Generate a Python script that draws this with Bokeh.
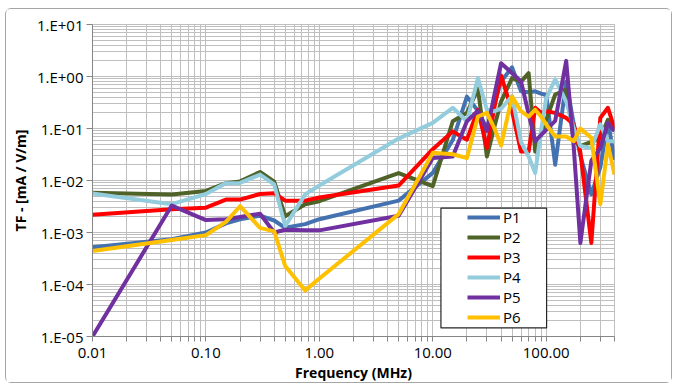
from bokeh.plotting import figure
from bokeh.models import (FixedTicker, PrintfTickFormatter, CustomJSTickFormatter,
                          Legend, LegendItem, BoxAnnotation)
from bokeh.embed import file_html
from bokeh.resources import INLINE

# ---- data (frequency in MHz, TF in mA / V/m) ----
freq = [0.01, 0.05, 0.1, 0.15, 0.2, 0.3, 0.4, 0.5, 0.75, 1, 5, 10, 15, 20, 25, 30, 35, 40,
        50, 60, 70, 80, 90, 100, 120, 150, 175, 200, 250, 300, 350, 400]

p1 = [5.2e-4, 7.4e-4, 1.0e-3, 1.5e-3, 1.8e-3, 2.1e-3, 1.7e-3, 1.23e-3, 1.45e-3, 1.8e-3, 4.1e-3,
      0.014, 0.06, 0.41, 0.22, 0.10, 0.30, 0.80, 1.5, 0.52, 0.50, 0.52, 0.47, 0.44, 0.02,
      0.8, 0.12, 0.03, 0.0054, 0.018, 0.14, 0.025]
p2 = [5.8e-3, 5.4e-3, 6.3e-3, 8.9e-3, 9.6e-3, 0.0146, 9.5e-3, 2.05e-3, 3.5e-3, 4.0e-3, 0.0139,
      7.8e-3, 0.138, 0.20, 0.58, 0.029, 0.11, 0.33, 0.93, 0.80, 1.16, 0.036, 0.075, 0.147, 0.45,
      0.56, 0.06, 0.046, 0.055, 0.066, 0.147, 0.094]
p3 = [2.2e-3, 2.8e-3, 3.0e-3, 4.3e-3, 4.3e-3, 5.5e-3, 5.7e-3, 4.1e-3, 4.1e-3, 4.7e-3, 8.0e-3,
      0.04, 0.088, 0.061, 0.23, 0.042, 0.26, 1.05, 0.215, 0.036, 0.036, 0.25, 0.20, 0.215, 0.20,
      0.16, 0.12, 0.035, 6.3e-4, 0.16, 0.25, 0.10]
p4 = [5.6e-3, 3.5e-3, 5.5e-3, 8.9e-3, 9.0e-3, 0.013, 8.4e-3, 1.33e-3, 5.4e-3, 8.0e-3, 0.064,
      0.128, 0.25, 0.138, 0.93, 0.23, 0.215, 0.24, 0.42, 0.055, 0.029, 0.014, 0.09, 0.38, 0.88,
      0.33, 0.10, 0.046, 0.042, 0.12, 0.057, 0.057]
p5 = [1.0e-5, 3.3e-3, 1.73e-3, 1.8e-3, 1.98e-3, 2.3e-3, 1.0e-3, 1.13e-3, 1.1e-3, 1.1e-3, 2.1e-3,
      0.027, 0.029, 0.138, 0.22, 0.09, 0.45, 1.8, 1.16, 0.80, 0.19, 0.057, 0.075, 0.094, 0.14,
      2.0, 0.043, 6.3e-4, 0.024, 0.042, 0.128, 0.088]
p6 = [4.4e-4, 7.2e-4, 8.9e-4, 1.6e-3, 3.2e-3, 1.23e-3, 1.05e-3, 2.26e-4, 7.7e-5, 1.3e-4, 2.26e-3,
      0.034, 0.032, 0.027, 0.17, 0.20, 0.10, 0.047, 0.41, 0.215, 0.17, 0.23, 0.17, 0.12, 0.07,
      0.07, 0.057, 0.10, 0.066, 3.5e-3, 0.049, 0.013]

series_names = ["P1", "P2", "P3", "P4", "P5", "P6"]
series_values = [p1, p2, p3, p4, p5, p6]
series_colors = ["#4472B0", "#4F6228", "#FF0000", "#93CDDD", "#7030A0", "#FFC000"]

x_major = [0.01, 0.1, 1, 10, 100]
y_major = [1e-5, 1e-4, 1e-3, 1e-2, 1e-1, 1, 10]

FONT = "Open Sans"

p = figure(width=667, height=375, x_axis_type="log", y_axis_type="log",
           x_range=(0.01, 400), y_range=(1e-5, 10),
           output_backend="svg", toolbar_location=None,
           min_border_left=86, min_border_right=59, min_border_top=15, min_border_bottom=48)
p.margin = (8, 0, 0, 5)
p.styles = {"border": "1px solid #A6A6A6", "border-radius": "6px"}
p.background_fill_color = "white"
p.border_fill_color = "white"
p.outline_line_color = "#BFBFBF"

x_minor = [k * 10.0 ** e for e in range(-2, 3) for k in range(2, 10) if k * 10.0 ** e <= 400]
y_minor = [k * 10.0 ** e for e in range(-5, 1) for k in range(2, 10)]
p.xaxis.ticker = FixedTicker(ticks=x_major, minor_ticks=x_minor)
p.yaxis.ticker = FixedTicker(ticks=y_major, minor_ticks=y_minor)
p.xaxis.formatter = PrintfTickFormatter(format="%.2f")
p.yaxis.formatter = CustomJSTickFormatter(code="""
const e = Math.round(Math.log10(tick));
const s = e < 0 ? "-" : "+";
const a = Math.abs(e);
return "1.E" + s + (a < 10 ? "0" : "") + a;
""")

for g in (p.xgrid, p.ygrid):
    g.grid_line_color = "#BFBFBF"
    g.grid_line_width = 1
    g.minor_grid_line_color = "#BFBFBF"
    g.minor_grid_line_width = 1

for ax in (p.xaxis, p.yaxis):
    ax.axis_line_color = "#868686"
    ax.major_tick_line_color = "#868686"
    ax.minor_tick_line_color = "#868686"
    ax.major_tick_in = 0
    ax.minor_tick_in = 0
    ax.major_label_text_font = FONT
    ax.major_label_text_font_size = "15px"
    ax.major_label_text_color = "black"
    ax.axis_label_text_font = FONT
    ax.axis_label_text_font_size = "14px"
    ax.axis_label_text_font_style = "bold"
    ax.axis_label_text_color = "black"

p.xaxis.major_tick_out = 5
p.xaxis.minor_tick_out = 5
p.yaxis.major_tick_out = 6
p.yaxis.minor_tick_out = 0
p.xaxis.major_label_standoff = 6
p.yaxis.major_label_standoff = 3
p.xaxis.axis_label = "Frequency (MHz)"
p.yaxis.axis_label = "TF - [mA / V/m]"
p.xaxis.axis_label_standoff = 2
p.yaxis.axis_label_standoff = 4

renderers = []
for name, vals, col in zip(series_names, series_values, series_colors):
    r = p.line(freq, vals, line_width=4, line_color=col, line_join="round")
    renderers.append(r)

# legend frame (white box with dark border)
box = BoxAnnotation(left=11.8, right=100.8, top=2.94e-3, bottom=1.46e-5,
                    fill_color="white", fill_alpha=1.0,
                    line_color="#262626", line_width=1.2, line_alpha=1.0)
p.add_layout(box)

legend = Legend(items=[LegendItem(label=n, renderers=[r]) for n, r in zip(series_names, renderers)],
                location=(375, 9), padding=0, spacing=0, margin=0,
                glyph_width=33, glyph_height=20, label_height=20, label_standoff=3,
                border_line_alpha=0, background_fill_alpha=0,
                label_text_font=FONT, label_text_font_size="15px", label_text_color="black")
p.add_layout(legend)

open("out.html", "w").write(file_html(p, INLINE))
